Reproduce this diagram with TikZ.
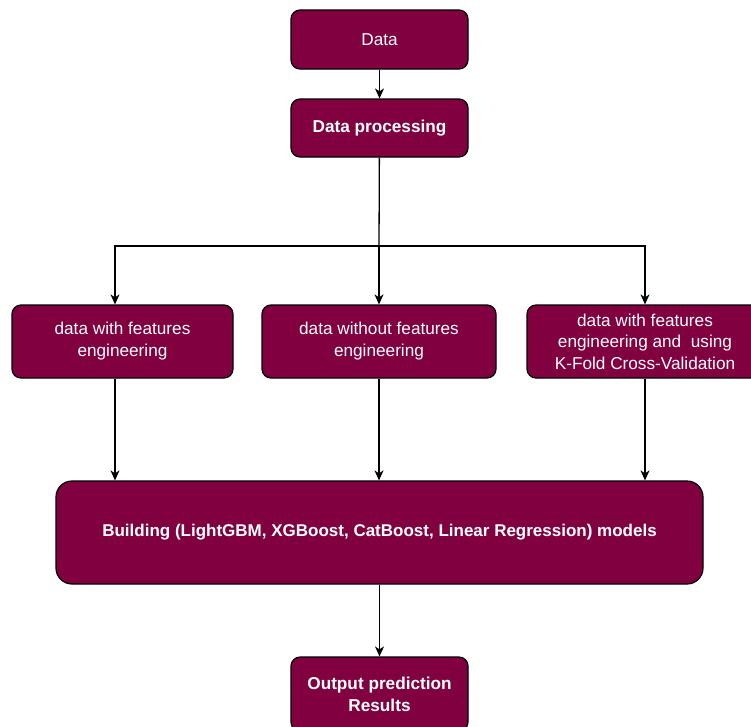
\documentclass[tikz,border=0pt]{standalone}
\usepackage{fontspec}
\setmainfont{Liberation Sans}
\usetikzlibrary{arrows.meta}
\definecolor{maroonfill}{RGB}{128,0,64}
\begin{document}
\begin{tikzpicture}[x=1pt,y=-1pt,
  box/.style={draw=black, fill=maroonfill, rounded corners=9pt, text=white,
    font=\fontsize{17.2}{22}\selectfont, align=center, inner sep=0pt, line width=1.2pt},
  arr/.style={-{Stealth[length=10pt,width=9pt,inset=3pt]}, line width=1.3pt},
  ln/.style={line width=1.3pt}]
\useasboundingbox (0,0) rectangle (751,726);
\node[box, minimum width=177pt, minimum height=59pt] (data) at (379.5,39.5) {Data};
\node[box, minimum width=177pt, minimum height=58pt, font=\fontsize{17.2}{22}\selectfont\bfseries] (dp) at (379.5,128) {Data processing};
\node[box, minimum width=221pt, minimum height=73pt] (left) at (122.5,341.5) {data with features\\engineering};
\node[box, minimum width=234pt, minimum height=73pt] (mid) at (379,341.5) {data without features\\engineering};
\node[box, minimum width=236pt, minimum height=73pt, font=\fontsize{17.2}{21.5}\selectfont] (right) at (645,341.5) {data with features\\engineering and\ \ using\\K-Fold Cross-Validation};
\node[box, rounded corners=16pt, minimum width=647pt, minimum height=103pt, font=\fontsize{17}{22}\selectfont\bfseries] (build) at (379.5,532.5) {Building (LightGBM, XGBoost, CatBoost, Linear Regression) models};
\node[box, minimum width=177pt, minimum height=74pt, font=\fontsize{17.2}{22}\selectfont\bfseries] (out) at (379.5,694) {Output prediction\\Results};
\coordinate (split) at (379,246);
\coordinate (jl) at (115,246);
\coordinate (jr) at (645,246);
\draw[arr] (data) -- (dp);
\draw[ln] (dp) -- (split);
\draw[arr] (split) -- (jl) -- (jl |- left.north);
\draw[arr] (split) -- (split |- mid.north);
\draw[arr] (split) -- (jr) -- (jr |- right.north);
\draw[arr] (jl |- left.south) -- (jl |- build.north);
\draw[arr] (split |- mid.south) -- (split |- build.north);
\draw[arr] (jr |- right.south) -- (jr |- build.north);
\draw[arr] (build) -- (out);
\end{tikzpicture}
\end{document}
